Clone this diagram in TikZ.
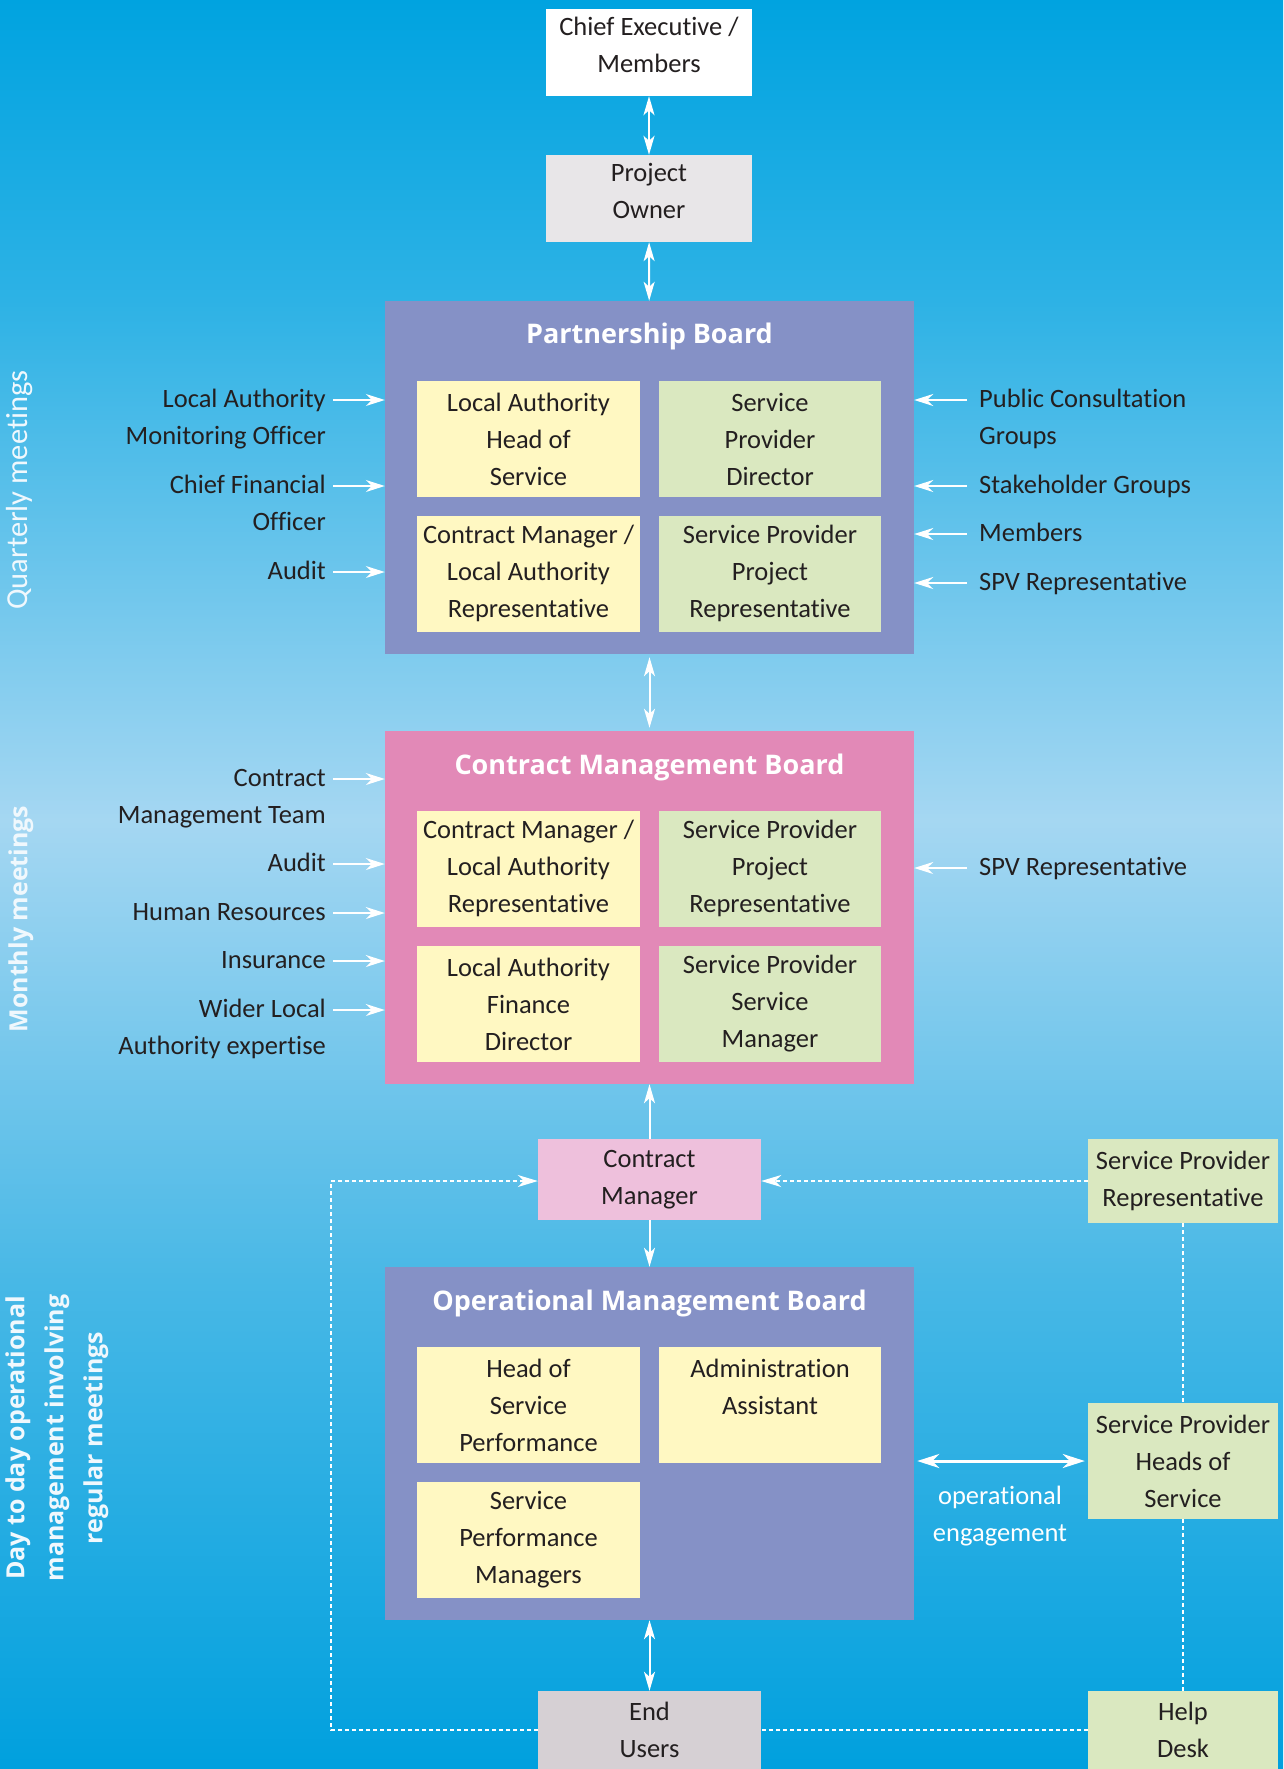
\documentclass[tikz,border=0pt]{standalone}
\usepackage{fontspec}
\setmainfont{Carlito}[Ligatures=NoCommon]
\newfontfamily\osans{Open Sans}
\usetikzlibrary{arrows.meta}
\definecolor{bgTop}{RGB}{0,163,224}
\definecolor{bgUp}{RGB}{45,178,229}
\definecolor{bgMid}{RGB}{165,215,242}
\definecolor{bgLow}{RGB}{72,184,230}
\definecolor{bgBot}{RGB}{0,160,222}
\definecolor{brdPurple}{RGB}{133,145,198}
\definecolor{brdPink}{RGB}{226,137,183}
\definecolor{inYellow}{RGB}{255,248,194}
\definecolor{inGreen}{RGB}{218,232,192}
\definecolor{poGray}{RGB}{232,230,232}
\definecolor{cmPink}{RGB}{238,192,220}
\definecolor{euGray}{RGB}{214,208,212}
\definecolor{txt}{RGB}{35,31,32}
\definecolor{vlbl}{RGB}{240,248,253}
\pgfdeclareverticalshading{bgshade}{100bp}{color(0bp)=(bgBot); color(25bp)=(bgBot); color(38.82bp)=(bgLow); color(51.82bp)=(bgMid); color(66.52bp)=(bgUp); color(75bp)=(bgTop); color(100bp)=(bgTop)}
\newcommand\leftarr[2]{\coordinate (#1-a) at ([shift={(7,18.4)}]#1.north east);
  \draw[sarr] (#1-a) -- (#1-a -| #2.west);}
\newcommand\rightarr[2]{\coordinate (#1-a) at ([shift={(-12,18.4)}]#1.north west);
  \draw[sarr] (#1-a) -- (#1-a -| #2.east);}
\begin{document}
\begin{tikzpicture}[x=1pt,y=-1pt,
  box/.style={rectangle, inner sep=0pt, align=center, text=txt, font=\fontsize{26.5}{37}\selectfont},
  board/.style={rectangle, inner sep=0pt, minimum width=529pt, minimum height=353pt},
  inbox/.style={box, minimum width=223pt, minimum height=116pt},
  ttl/.style={text=white, inner sep=0pt, font=\osans\bfseries\fontsize{27}{32}\selectfont},
  lblL/.style={inner sep=0pt, align=right, text=txt, anchor=north east, font=\fontsize{26.5}{37}\selectfont},
  lblR/.style={inner sep=0pt, align=left, text=txt, anchor=north west, font=\fontsize{26.5}{37}\selectfont},
  varr/.style={white, line width=2pt, <->, >={Stealth[length=19pt,width=11pt,inset=5pt]}},
  varrs/.style={white, line width=2pt, ->, >={Stealth[length=19pt,width=11pt,inset=5pt]}},
  sarr/.style={white, line width=1.6pt, ->, >={Stealth[length=19pt,width=12pt,inset=6pt]}},
  earr/.style={white, line width=3pt, <->, >={Stealth[length=22pt,width=14pt,inset=7pt]}},
  dsh/.style={white, line width=1.5pt, dash pattern=on 4pt off 3pt},
  dsharr/.style={dsh, ->, >={Stealth[length=20pt,width=12pt,inset=6pt]}}
]
\useasboundingbox (0,0) rectangle (1283,1769);
\shade[shading=bgshade] (0,0) rectangle (1283,1769);

% vertical labels
\node[rotate=90, text=vlbl, inner sep=0pt, font=\fontsize{30.5}{36}\selectfont] (qm) at (20,490) {Quarterly meetings};
\node[rotate=90, text=vlbl, inner sep=0pt, font=\osans\bfseries\fontsize{25}{30}\selectfont] (mm) at (21,919) {Monthly meetings};
\node[rotate=90, text=vlbl, inner sep=0pt, align=center, font=\osans\bfseries\fontsize{25}{39}\selectfont] (dd) at (57,1438) {Day to day operational\\management involving\\regular meetings};

% top boxes
\node[box, fill=white, minimum width=206pt, minimum height=87pt] (chief) at (649,52.5) {Chief Executive /\\Members\\[-21pt]\mbox{}};
\node[box, fill=poGray, minimum width=206pt, minimum height=87pt] (po) at (649,198.5) {Project\\Owner\\[-21pt]\mbox{}};

% Partnership Board
\node[board, fill=brdPurple] (pb) at (649.5,477.5) {};
\node[ttl] (pbt) at (649.5,336) {Partnership Board};
\node[inbox, fill=inYellow] (pb1) at (528.5,439) {Local Authority\\Head of\\Service};
\node[inbox, fill=inGreen, minimum width=222pt] (pb2) at (770,439) {Service\\Provider\\Director};
\node[inbox, fill=inYellow] (pb3) at (528.5,573.5) {Contract Manager /\\Local Authority\\Representative};
\node[inbox, fill=inGreen, minimum width=222pt] (pb4) at (770,573.5) {Service Provider\\Project\\Representative};

% Contract Management Board
\node[board, fill=brdPink] (cmb) at (649.5,907.5) {};
\node[ttl] (cmbt) at (649.5,767) {Contract Management Board};
\node[inbox, fill=inYellow] (cmb1) at (528.5,868.5) {Contract Manager /\\Local Authority\\Representative};
\node[inbox, fill=inGreen, minimum width=222pt] (cmb2) at (770,868.5) {Service Provider\\Project\\Representative};
\node[inbox, fill=inYellow] (cmb3) at (528.5,1004) {Local Authority\\Finance\\Director};
\node[inbox, fill=inGreen, minimum width=222pt] (cmb4) at (770,1004) {Service Provider\\Service\\Manager};

% Contract Manager and SP Representative
\node[box, fill=cmPink, minimum width=223pt, minimum height=81pt] (cm) at (649.5,1179.5) {Contract\\Manager};
\node[box, fill=inGreen, minimum width=190pt, minimum height=84pt] (sprep) at (1183,1181) {Service Provider\\Representative};

% Operational Management Board
\node[board, fill=brdPurple] (omb) at (649.5,1443.5) {};
\node[ttl] (ombt) at (649.5,1303) {Operational Management Board};
\node[inbox, fill=inYellow] (omb1) at (528.5,1405) {Head of\\Service\\Performance};
\node[inbox, fill=inYellow, minimum width=222pt] (omb2) at (770,1405) {Administration\\Assistant\\\mbox{}};
\node[inbox, fill=inYellow] (omb3) at (528.5,1540) {Service\\Performance\\Managers};

\node[box, fill=inGreen, minimum width=190pt, minimum height=116pt] (sph) at (1183,1461) {Service Provider\\Heads of\\Service};
\node[box, text=white] (oe) at (1000,1516) {operational\\engagement};

% bottom boxes
\node[box, fill=euGray, minimum width=223pt, minimum height=78pt] (eu) at (649.5,1730) {End\\Users};
\node[box, fill=inGreen, minimum width=190pt, minimum height=78pt] (hd) at (1183,1730) {Help\\Desk};

% side labels: Partnership Board
\node[lblL] (l1) at (326,381.6) {\strut Local Authority\\Monitoring Officer};
\node[lblL] (l2) at (326,467.6) {\strut Chief Financial\\Officer};
\node[lblL] (l3) at (326,553.6) {\strut Audit};
\leftarr{l1}{pb}\leftarr{l2}{pb}\leftarr{l3}{pb}
\node[lblR] (r1) at (979,381.6) {\strut Public Consultation\\Groups};
\node[lblR] (r2) at (979,467.6) {\strut Stakeholder Groups};
\node[lblR] (r3) at (979,515.6) {\strut Members};
\node[lblR] (r4) at (979,564.6) {\strut SPV Representative};
\rightarr{r1}{pb}\rightarr{r2}{pb}\rightarr{r3}{pb}\rightarr{r4}{pb}

% side labels: Contract Management Board
\node[lblL] (l4) at (326,760.6) {\strut Contract\\Management Team};
\node[lblL] (l5) at (326,845.6) {\strut Audit};
\node[lblL] (l6) at (326,894.6) {\strut Human Resources};
\node[lblL] (l7) at (326,942.6) {\strut Insurance};
\node[lblL] (l8) at (326,991.6) {\strut Wider Local\\Authority expertise};
\leftarr{l4}{cmb}\leftarr{l5}{cmb}\leftarr{l6}{cmb}\leftarr{l7}{cmb}\leftarr{l8}{cmb}
\node[lblR] (r5) at (979,849.6) {\strut SPV Representative};
\rightarr{r5}{cmb}

% vertical connectors
\draw[varr] (chief) -- (po);
\draw[varr] (po) -- (pb);
\draw[varr] ([yshift=-3pt]pb.south) -- ([yshift=3pt]cmb.north);
\draw[varrs] (cm) -- (cmb);
\draw[varrs] (cm) -- (omb);
\draw[varr] (omb) -- (eu);
\draw[earr] ([xshift=3pt]omb.east |- sph.west) -- ([xshift=-3pt]sph.west);

% dashed connectors
\coordinate (lc) at (331,1181);
\draw[dsharr] (sprep.west) -- (sprep.west -| cm.east);
\draw[dsh] (hd.west) -- (eu.east);
\draw[dsharr] (eu.west) -- (eu.west -| lc) -- (lc) -- (lc -| cm.west);
\draw[dsh] (sprep.south) -- (sph.north);
\draw[dsh] (sph.south) -- (hd.north);
\end{tikzpicture}
\end{document}
